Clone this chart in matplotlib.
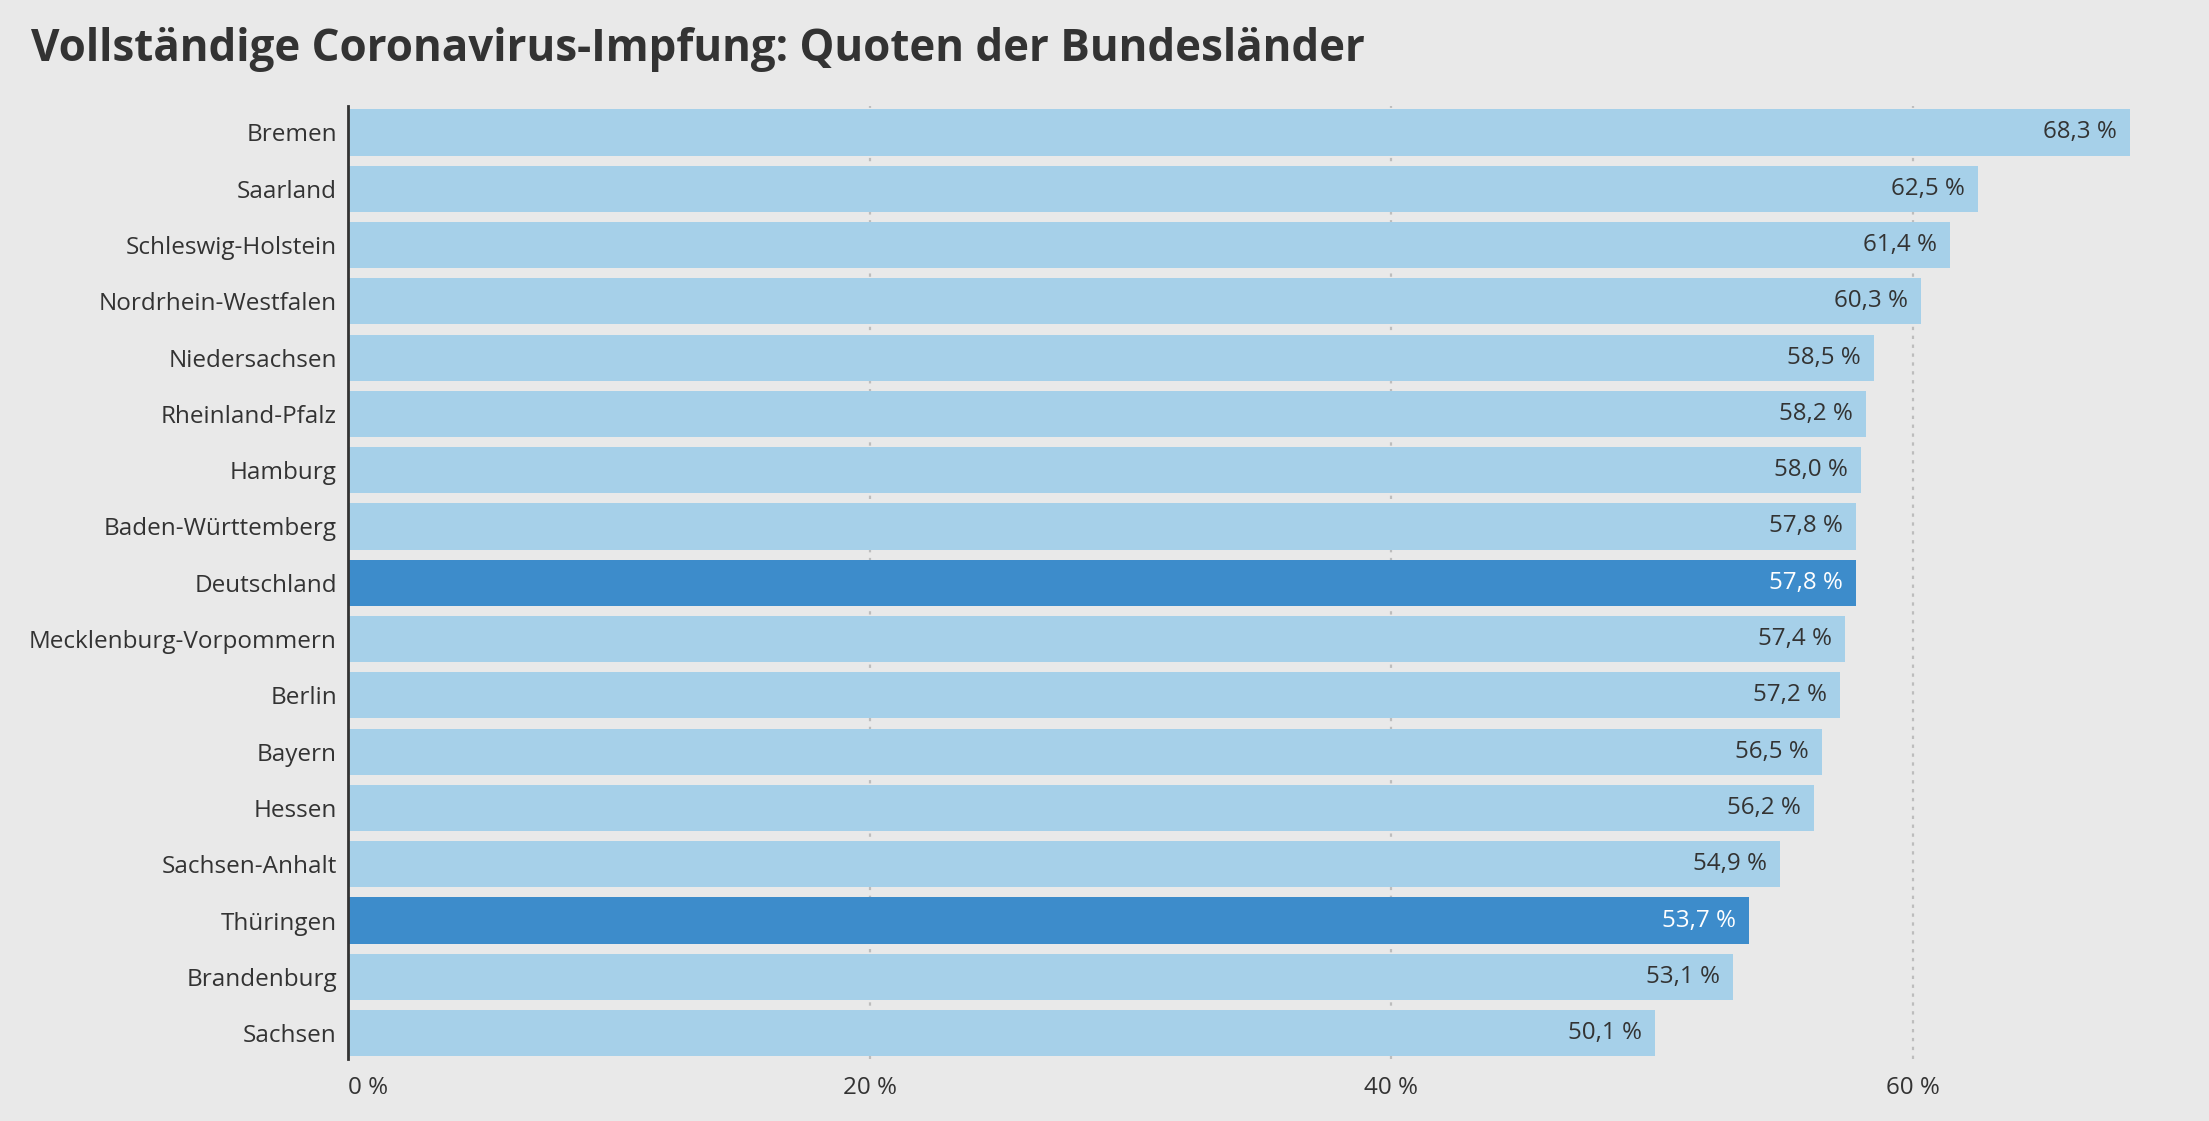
import matplotlib.pyplot as plt
import numpy as np

BG = "#e9e9e9"
LIGHT = "#a6d0e9"
DARK = "#3d8ccb"
TEXT = "#333333"
GRID = "#bdbdbd"

plt.rcParams["font.family"] = ["Open Sans", "DejaVu Sans"]

states = ["Bremen", "Saarland", "Schleswig-Holstein", "Nordrhein-Westfalen",
          "Niedersachsen", "Rheinland-Pfalz", "Hamburg", "Baden-Württemberg",
          "Deutschland", "Mecklenburg-Vorpommern", "Berlin", "Bayern", "Hessen",
          "Sachsen-Anhalt", "Thüringen", "Brandenburg", "Sachsen"]
rates = [68.3, 62.5, 61.4, 60.3, 58.5, 58.2, 58.0, 57.8, 57.8, 57.4, 57.2,
         56.5, 56.2, 54.9, 53.7, 53.1, 50.1]
highlight = ["Deutschland", "Thüringen"]
xticks = [0, 20, 40, 60]

fig = plt.figure(figsize=(22.09, 11.21), dpi=100, facecolor=BG)
ax = fig.add_axes([348 / 2209, 62 / 1121, 1826 / 2209, 953 / 1121])
ax.set_facecolor(BG)

y = np.arange(len(states))
colors = [DARK if s in highlight else LIGHT for s in states]
ax.barh(y, rates, height=0.82, color=colors, zorder=2)

for yi, val, s in zip(y, rates, states):
    col = "white" if s in highlight else TEXT
    ax.text(val - 0.5, yi, f"{val:.1f} %".replace(".", ","), ha="right",
            va="center", color=col, fontsize=17.4, zorder=3)

ax.set_xlim(0, 70)
ax.set_ylim(len(states) - 1 + 0.46, -0.47)
ax.set_yticks(y)
ax.set_yticklabels(states, fontsize=17.5, color=TEXT)
ax.set_xticks(xticks)
ax.set_xticklabels([f"{t} %" for t in xticks], fontsize=17.4, color=TEXT)
ax.get_xticklabels()[0].set_horizontalalignment("left")
ax.tick_params(axis="both", length=0)
ax.tick_params(axis="y", pad=8)
ax.tick_params(axis="x", pad=12)

for t in xticks[1:]:
    ax.axvline(t, color=GRID, linestyle=(0, (1.5, 2.5)), linewidth=1.6, zorder=1)

for side in ["top", "right", "bottom"]:
    ax.spines[side].set_visible(False)
ax.spines["left"].set_color(TEXT)
ax.spines["left"].set_linewidth(2)
ax.spines["left"].set_zorder(4)

fig.text(31 / 2209, 1 - 50 / 1121, "Vollständige Coronavirus-Impfung: Quoten der Bundesländer",
         fontsize=31.6, fontweight="bold", color=TEXT, ha="left", va="center")

plt.savefig("out.png", dpi=100, facecolor=BG)
plt.close()
